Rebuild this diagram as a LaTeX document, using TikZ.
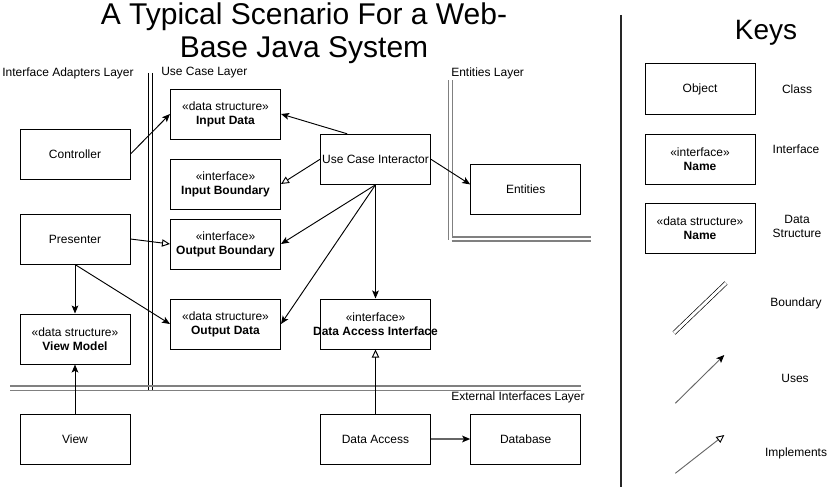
\documentclass[tikz,border=0pt]{standalone}
\usepackage{fontspec}
\setmainfont{Liberation Sans}
\usetikzlibrary{arrows.meta,calc}
\begin{document}
\begin{tikzpicture}[x=0.75pt,y=-0.75pt,
  box/.style={draw, line width=0.75pt, minimum width=82.5pt, minimum height=37.5pt, inner sep=0pt, align=center, font=\fontsize{9}{10.5}\selectfont},
  lbl/.style={inner sep=0pt, align=center, font=\fontsize{9}{10.5}\selectfont},
  uses/.style={line width=0.7pt, -{Stealth[length=6pt,width=5pt,inset=1.3pt,color=black]}},
  impl/.style={line width=0.7pt, -{Triangle[open,length=6pt,width=5.5pt,color=black]}},
  gline/.style={draw=black!50, line width=1.2pt},
  bline/.style={draw=black, line width=0.7pt}]
\useasboundingbox (0,0) rectangle (827,492);

% title
\node[inner sep=0pt, align=center, font=\fontsize{22.5}{24.75}\selectfont] (title) at (304,33.5) {A Typical Scenario For a Web-\\Base Java System};

% layer labels
\node[lbl, anchor=west] (lia) at (2,73) {Interface Adapters Layer};
\node[lbl, anchor=west] (luc) at (161,73) {Use Case Layer};
\node[lbl, anchor=west] (lent) at (451,73) {Entities Layer};
\node[lbl, anchor=west] (lext) at (451,397) {External Interfaces Layer};

% boundaries
\draw[bline] (148.3,73) -- (148.3,390.5);
\draw[bline] (152.3,73) -- (152.3,390.5);
\draw[gline] (10,386) -- (580.7,386);
\draw[gline] (10,390.3) -- (580.7,390.3);
\draw[gline] (448.3,80) -- (448.3,239.5);
\draw[gline] (452.3,80) -- (452.3,236.7);
\draw[gline] (452.3,236.7) -- (590.7,236.7);
\draw[gline] (451.7,241) -- (590.7,241);

% boxes
\node[box] (ctrl) at (75,154) {Controller};
\node[box] (pres) at (75,239) {Presenter};
\node[box] (vm) at (75,339) {«data structure»\\\textbf{View Model}};
\node[box] (view) at (75,439) {View};
\node[box] (indata) at (225.5,114) {«data structure»\\\textbf{Input Data}};
\node[box] (inbd) at (225.5,184) {«interface»\\\textbf{Input Boundary}};
\node[box] (outbd) at (225.5,244) {«interface»\\\textbf{Output Boundary}};
\node[box] (outdata) at (225.5,324) {«data structure»\\\textbf{Output Data}};
\node[box] (uci) at (375.5,159.3) {\makebox[0pt]{Use Case Interactor}};
\node[box] (ent) at (525.7,189.3) {Entities};
\node[box] (dai) at (375.5,324) {«interface»\\\makebox[0pt]{\textbf{Data Access Interface}}};
\node[box] (da) at (375.5,439) {Data Access};
\node[box] (db) at (525.7,439) {Database};

% connectors
\draw[uses] (ctrl.east) -- (indata.west);
\draw[uses] (uci.138) -- (indata.east);
\draw[impl] (uci.west) -- (inbd.east);
\draw[uses] (uci.east) -- (ent.175);
\draw[uses] (uci.south) -- (outbd.east);
\draw[uses] (uci.south) -- (outdata.east);
\draw[uses] (uci.south) -- (dai.north);
\draw[impl] (pres.east) -- (outbd.west);
\draw[uses] (pres.south) -- (vm.north);
\draw[uses] (pres.south) -- (outdata.west);
\draw[uses] (view.north) -- (vm.south);
\draw[impl] (da.north) -- (dai.south);
\draw[uses, draw=black!60, line width=1pt] (da.east) -- (db.west);

% divider
\draw[line width=1.5pt, draw=black!85] (621,15) -- (621,487);

% keys
\node[inner sep=0pt, font=\fontsize{21}{24}\selectfont] (keys) at (766,33) {Keys};
\node[box] (kobj) at (700,89) {Object};
\node[box] (kint) at (700,159) {«interface»\\\textbf{Name}};
\node[box] (kds) at (700,228.3) {«data structure»\\\textbf{Name}};
\node[lbl] (lclass) at (797,89) {Class};
\node[lbl] (linterface) at (796,149) {Interface};
\node[lbl] (ldata) at (797,226) {Data\\Structure};
\node[lbl] (lbound) at (796,303) {Boundary};
\node[lbl] (luses) at (795,378) {Uses};
\node[lbl] (limpl) at (796,453) {Implements};

\coordinate (kb1) at (674,333);
\coordinate (kb2) at (726,283);
\coordinate (ku1) at (675.3,403.3);
\coordinate (ku2) at (724.3,355);
\coordinate (ki1) at (675.3,473.3);
\coordinate (ki2) at (724.3,435);
\draw[line width=0.5pt, double, double distance=2.2pt] (kb1) -- (kb2);
\draw[uses, draw=black!60] (ku1) -- (ku2);
\draw[impl, draw=black!60] (ki1) -- (ki2);
\end{tikzpicture}
\end{document}
